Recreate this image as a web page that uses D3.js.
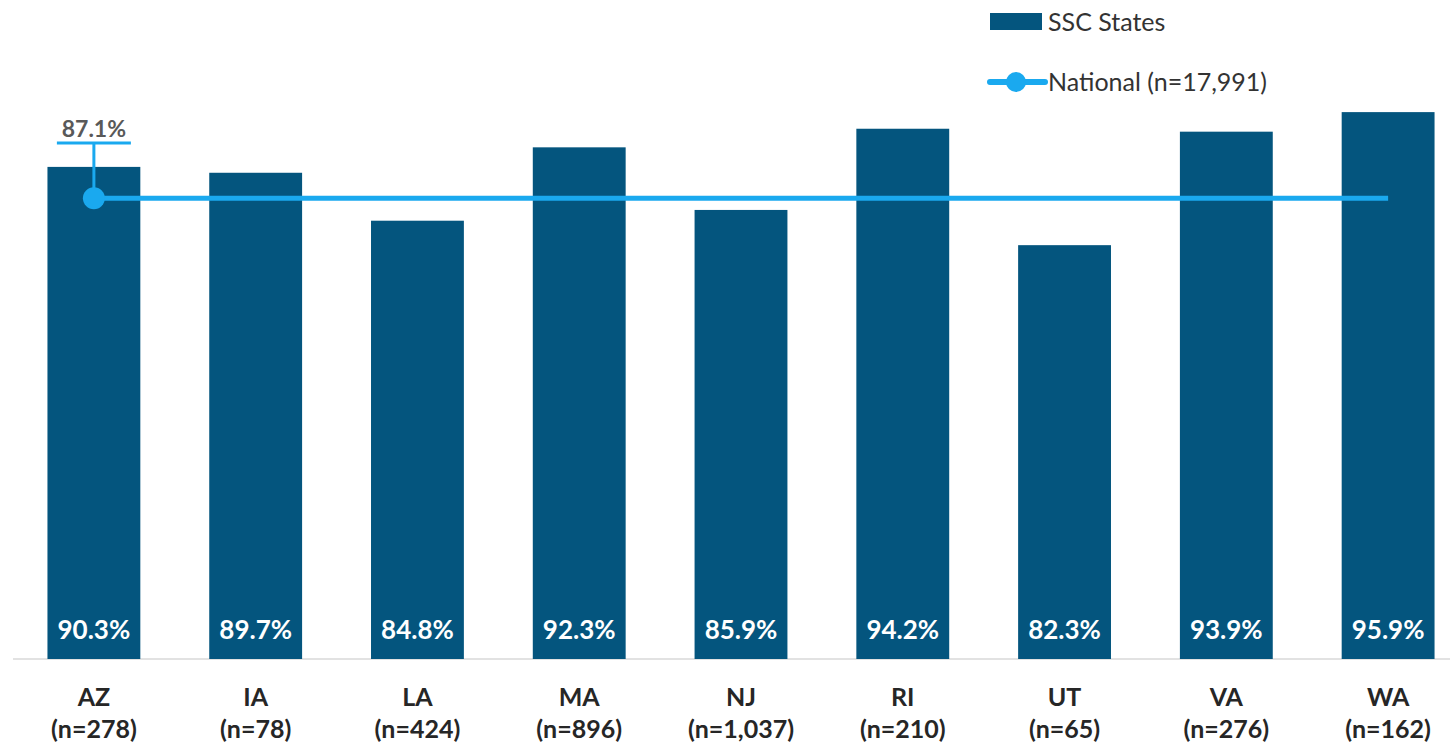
<!DOCTYPE html>
<html>
<head>
<meta charset="utf-8">
<script src="https://cdn.jsdelivr.net/npm/d3@7"></script>
<style>
  html, body { margin: 0; padding: 0; background: #fff; }
  svg { display: block; font-family: Lato, "Open Sans", sans-serif; }
</style>
</head>
<body>
<svg id="chart" width="1450" height="745"></svg>
<script>
// State-level rates against the national rate
const states = ["AZ", "IA", "LA", "MA", "NJ", "RI", "UT", "VA", "WA"];
const stateN = ["278", "78", "424", "896", "1,037", "210", "65", "276", "162"];
const stateValues = [90.3, 89.7, 84.8, 92.3, 85.9, 94.2, 82.3, 93.9, 95.9];
const nationalValues = [87.1, 87.1, 87.1, 87.1, 87.1, 87.1, 87.1, 87.1, 87.1];
const seriesNames = ["SSC States", "National (n=17,991)"];

const barColor = "#04557e";
const lineColor = "#1aa9ef";

const svg = d3.select("#chart");

const x = d3.scaleBand()
  .domain(states)
  .range([13, 1469])
  .paddingInner(0.426)
  .paddingOuter(0.213);

const y = d3.scaleLinear()
  .domain([40, 100])
  .range([659, 72]);

const cx = d => x(d) + x.bandwidth() / 2;

// Baseline axis
const axis = svg.append("g")
  .attr("transform", `translate(0,${y(40)})`)
  .call(d3.axisBottom(x).tickSize(0).tickFormat(""));
axis.select(".domain").attr("stroke", "#d9d9d9").attr("stroke-width", 1.5)
  .attr("d", `M13,0H1450`);

// Bars
svg.append("g").selectAll("rect")
  .data(states)
  .join("rect")
  .attr("x", d => x(d))
  .attr("width", x.bandwidth())
  .attr("y", (d, i) => y(stateValues[i]))
  .attr("height", (d, i) => y(40) - y(stateValues[i]))
  .attr("fill", barColor);

// Values inside the bars, near the base
svg.append("g").selectAll("text")
  .data(states)
  .join("text")
  .attr("x", d => cx(d))
  .attr("y", 639)
  .attr("text-anchor", "middle")
  .attr("fill", "#fff")
  .attr("font-size", 26)
  .attr("font-weight", 700)
  .text((d, i) => stateValues[i].toFixed(1) + "%");

// Category labels
const cat = svg.append("g").selectAll("text")
  .data(states)
  .join("text")
  .attr("x", d => cx(d))
  .attr("text-anchor", "middle")
  .attr("fill", "#262626")
  .attr("font-size", 25)
  .attr("font-weight", 700);
cat.append("tspan").attr("x", d => cx(d)).attr("y", 706).text(d => d);
cat.append("tspan").attr("x", d => cx(d)).attr("y", 738).text((d, i) => `(n=${stateN[i]})`);

// National line
const line = d3.line()
  .x(d => cx(d))
  .y((d, i) => y(nationalValues[i]));
svg.append("path")
  .datum(states)
  .attr("d", line)
  .attr("fill", "none")
  .attr("stroke", lineColor)
  .attr("stroke-width", 5);

// Callout for the national value on the first point
const p0x = cx(states[0]);
const p0y = y(nationalValues[0]);
svg.append("line")
  .attr("x1", p0x).attr("x2", p0x)
  .attr("y1", 143).attr("y2", p0y)
  .attr("stroke", lineColor).attr("stroke-width", 3);
svg.append("line")
  .attr("x1", p0x - 37).attr("x2", p0x + 37)
  .attr("y1", 143).attr("y2", 143)
  .attr("stroke", lineColor).attr("stroke-width", 3);
svg.append("circle")
  .attr("cx", p0x).attr("cy", p0y).attr("r", 11)
  .attr("fill", lineColor);
svg.append("text")
  .attr("x", p0x).attr("y", 137)
  .attr("text-anchor", "middle")
  .attr("fill", "#595959")
  .attr("font-size", 23)
  .attr("font-weight", 700)
  .text(nationalValues[0].toFixed(1) + "%");

// Legend
const legend = svg.append("g").attr("font-size", 25).attr("fill", "#333");
legend.append("rect")
  .attr("x", 990).attr("y", 13).attr("width", 52).attr("height", 17)
  .attr("fill", barColor);
legend.append("text")
  .attr("x", 1048).attr("y", 31)
  .attr("fill", "#333")
  .text(seriesNames[0]);
legend.append("line")
  .attr("x1", 990).attr("x2", 1045).attr("y1", 82).attr("y2", 82)
  .attr("stroke", lineColor).attr("stroke-width", 6).attr("stroke-linecap", "round");
legend.append("circle")
  .attr("cx", 1016).attr("cy", 82).attr("r", 10)
  .attr("fill", lineColor);
legend.append("text")
  .attr("x", 1048).attr("y", 91)
  .attr("fill", "#333")
  .text(seriesNames[1]);
</script>
</body>
</html>
